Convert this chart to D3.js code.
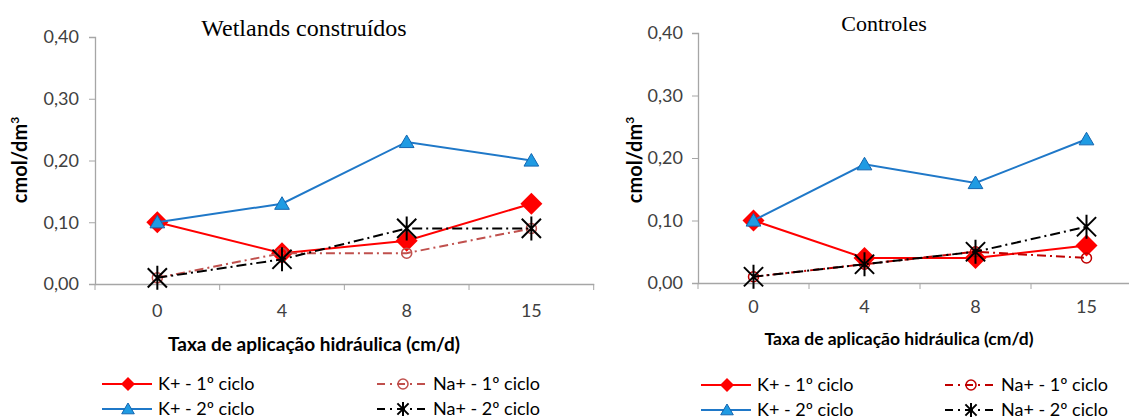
<!DOCTYPE html>
<html>
<head>
<meta charset="utf-8">
<script src="https://cdn.jsdelivr.net/npm/d3@7"></script>
<style>
  body { margin: 0; background: #fff; }
  svg { display: block; }
</style>
</head>
<body>
<svg id="chart" width="1129" height="419"></svg>
<script>
// categories (taxa de aplicação hidráulica, cm/d)
var categories = ["0", "4", "8", "15"];
var yTicks = [0, 0.1, 0.2, 0.3, 0.4];

// Wetlands construídos
var wetK1 = [0.10, 0.05, 0.07, 0.13];
var wetK2 = [0.10, 0.13, 0.23, 0.20];
var wetNa1 = [0.01, 0.05, 0.05, 0.09];
var wetNa2 = [0.01, 0.04, 0.09, 0.09];

// Controles
var ctlK1 = [0.10, 0.04, 0.04, 0.06];
var ctlK2 = [0.10, 0.19, 0.16, 0.23];
var ctlNa1 = [0.01, 0.03, 0.05, 0.04];
var ctlNa2 = [0.01, 0.03, 0.05, 0.09];

var seriesNames = ["K+ - 1º ciclo", "K+ - 2º ciclo", "Na+ - 1º ciclo", "Na+ - 2º ciclo"];

var svg = d3.select("#chart");
var sansFont = "Lato, 'Open Sans', sans-serif";

// marker drawers
function drawMarker(g, type, x, y, s, color) {
  if (type == "diamond") {
    g.append("path")
      .attr("d", "M" + x + "," + (y - s) + "L" + (x + s) + "," + y + "L" + x + "," + (y + s) + "L" + (x - s) + "," + y + "Z")
      .attr("fill", "#ff0000");
  } else if (type == "triangle") {
    g.append("path")
      .attr("d", "M" + x + "," + (y - s) + "L" + (x + s * 1.05) + "," + (y + s * 0.8) + "L" + (x - s * 1.05) + "," + (y + s * 0.8) + "Z")
      .attr("fill", "#1f9be3")
      .attr("stroke", "#1466b0")
      .attr("stroke-width", 1);
  } else if (type == "circle") {
    g.append("circle")
      .attr("cx", x).attr("cy", y).attr("r", s)
      .attr("fill", "none")
      .attr("stroke", color)
      .attr("stroke-width", 1.5);
  } else if (type == "star") {
    var d = s * 0.8;
    g.append("path")
      .attr("d", "M" + (x - d) + "," + (y - d) + "L" + (x + d) + "," + (y + d) +
                 "M" + (x + d) + "," + (y - d) + "L" + (x - d) + "," + (y + d) +
                 "M" + x + "," + (y - s) + "L" + x + "," + (y + s))
      .attr("stroke", "#000")
      .attr("stroke-width", 2)
      .attr("fill", "none");
  }
}

function drawPanel(cfg) {
  var g = svg.append("g");

  var x = d3.scaleBand().domain(categories).range(cfg.xRange).padding(0);
  var y = d3.scaleLinear().domain([0, 0.4]).range(cfg.yRange);

  // y axis
  var yAxis = g.append("g")
    .attr("transform", "translate(" + cfg.xRange[0] + ",0)")
    .call(d3.axisLeft(y).tickValues(yTicks).tickSize(6).tickPadding(cfg.yPad)
      .tickFormat(function(d) { return d3.format(".2f")(d).replace(".", ","); }));
  yAxis.select(".domain").attr("stroke", "#a6a6a6").attr("stroke-width", 1.3);
  yAxis.selectAll(".tick line").attr("stroke", "#a6a6a6");
  yAxis.selectAll("text").attr("font-family", sansFont).attr("font-size", 18).attr("fill", "#404040");

  // x axis: labels centred, ticks on band edges
  var xAxis = g.append("g")
    .attr("transform", "translate(0," + cfg.yRange[0] + ")")
    .call(d3.axisBottom(x).tickSize(0).tickPadding(cfg.xPad).tickSizeOuter(0));
  xAxis.select(".domain").attr("stroke", "#a6a6a6").attr("stroke-width", 1.3);
  xAxis.selectAll("text").attr("font-family", sansFont).attr("font-size", 18).attr("fill", "#404040");
  var edges = categories.map(function(c) { return x(c); }).concat([x.range()[1]]);
  xAxis.selectAll(".edge").data(edges).enter().append("line")
    .attr("x1", function(d) { return d; }).attr("x2", function(d) { return d; })
    .attr("y1", 0).attr("y2", 6)
    .attr("stroke", "#a6a6a6");

  // titles
  g.append("text")
    .attr("x", cfg.titleX).attr("y", cfg.titleY)
    .attr("text-anchor", "middle")
    .attr("font-family", "'Liberation Serif', 'Times New Roman', serif")
    .attr("font-size", cfg.titleSize)
    .attr("fill", "#000")
    .text(cfg.title);

  g.append("text")
    .attr("x", cfg.xTitleX).attr("y", cfg.xTitleY)
    .attr("text-anchor", "middle")
    .attr("font-family", sansFont).attr("font-weight", "bold")
    .attr("font-size", cfg.xTitleSize)
    .attr("fill", "#000")
    .text("Taxa de aplicação hidráulica (cm/d)");

  var yt = g.append("text")
    .attr("transform", "translate(" + cfg.yTitleX + "," + cfg.yTitleY + ") rotate(-90)")
    .attr("text-anchor", "middle")
    .attr("font-family", sansFont).attr("font-weight", "bold")
    .attr("font-size", 20)
    .attr("fill", "#000");
  yt.append("tspan").text("cmol/dm");
  yt.append("tspan").attr("font-size", 12).attr("dy", -8).text("3");

  // series
  var series = [
    { values: cfg.k1, color: "#ff0000", dash: null, marker: "diamond", size: 11 },
    { values: cfg.k2, color: "#1f78c8", dash: null, marker: "triangle", size: 7 },
    { values: cfg.na1, color: cfg.na1Color, dash: "9,4,2,4", marker: "circle", size: 5 },
    { values: cfg.na2, color: "#000", dash: "10,4,2,4", marker: "star", size: 12 }
  ];

  var line = d3.line()
    .x(function(d, i) { return x(categories[i]) + x.bandwidth() / 2; })
    .y(function(d) { return y(d); });

  series.forEach(function(s) {
    g.append("path")
      .datum(s.values)
      .attr("d", line)
      .attr("fill", "none")
      .attr("stroke", s.color)
      .attr("stroke-width", 2)
      .attr("stroke-dasharray", s.dash);
    s.values.forEach(function(v, i) {
      drawMarker(g, s.marker, x(categories[i]) + x.bandwidth() / 2, y(v), s.size, s.color);
    });
  });

  // legend
  var legendMarkerSize = [7, 6, 5, 7];
  series.forEach(function(s, i) {
    var lx = i < 2 ? cfg.legendX[0] : cfg.legendX[1];
    var ly = cfg.legendY[i % 2];
    var lg = g.append("g");
    lg.append("line")
      .attr("x1", lx).attr("x2", lx + 50)
      .attr("y1", ly).attr("y2", ly)
      .attr("stroke", s.color)
      .attr("stroke-width", 2)
      .attr("stroke-dasharray", s.dash ? "8,5,2,5" : null);
    drawMarker(lg, s.marker, lx + 26, ly, legendMarkerSize[i], s.color);
    lg.append("text")
      .attr("x", lx + 56).attr("y", ly + 6)
      .attr("font-family", sansFont)
      .attr("font-size", 18)
      .attr("fill", "#000")
      .text(seriesNames[i]);
  });
}

drawPanel({
  title: "Wetlands construídos", titleX: 304, titleY: 36, titleSize: 24,
  xRange: [95, 593.7], yRange: [284, 37], yPad: 10, xPad: 20,
  xTitleX: 314, xTitleY: 351, xTitleSize: 19,
  yTitleX: 27, yTitleY: 160,
  k1: wetK1, k2: wetK2, na1: wetNa1, na2: wetNa2, na1Color: "#c0504d",
  legendX: [102, 377], legendY: [384, 409]
});

drawPanel({
  title: "Controles", titleX: 884, titleY: 31, titleSize: 22,
  xRange: [698, 1142], yRange: [283, 33], yPad: 9, xPad: 17,
  xTitleX: 899, xTitleY: 345, xTitleSize: 17.5,
  yTitleX: 642, yTitleY: 160,
  k1: ctlK1, k2: ctlK2, na1: ctlNa1, na2: ctlNa2, na1Color: "#c00000",
  legendX: [701, 945], legendY: [385, 410]
});
</script>
</body>
</html>
